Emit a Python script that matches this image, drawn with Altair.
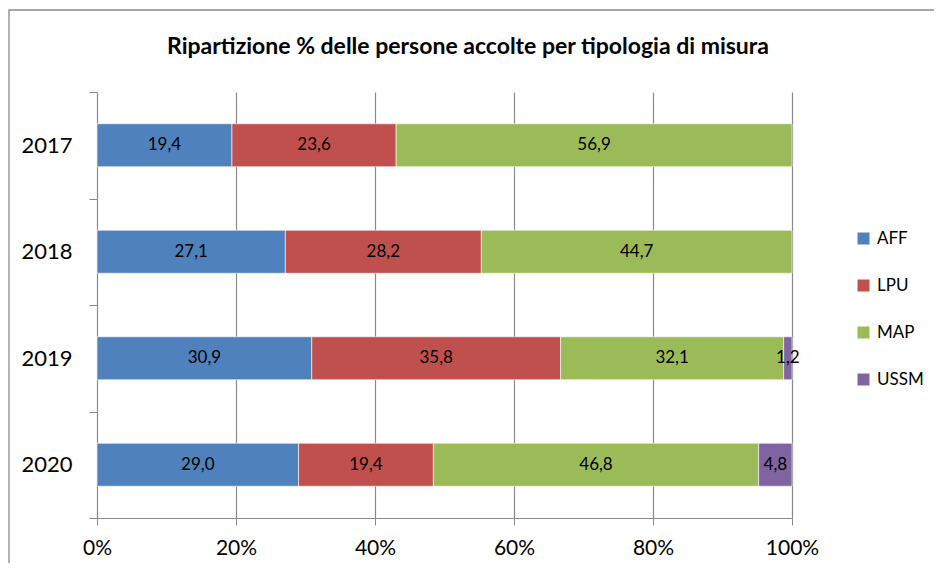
import altair as alt
import pandas as pd

years = ["2017", "2018", "2019", "2020"]
series = ["AFF", "LPU", "MAP", "USSM"]
aff = [19.4, 27.1, 30.9, 29.0]
lpu = [23.6, 28.2, 35.8, 19.4]
map_ = [56.9, 44.7, 32.1, 46.8]
ussm = [0.0, 0.0, 1.2, 4.8]
colors = ["#4F81BD", "#C0504D", "#9BBB59", "#8064A2"]
title_text = "Ripartizione % delle persone accolte per tipologia di misura"

rows = []
for i, y in enumerate(years):
    for j, (s, vals) in enumerate(zip(series, [aff, lpu, map_, ussm])):
        if vals[i] > 0:
            rows.append({"year": y, "serie": s, "v": vals[i], "ord": j})
df = pd.DataFrame(rows)

FONT = "Lato"
GRID = "#8a8a8a"

base = alt.Chart(df).transform_stack(
    stack="v", groupby=["year"], as_=["x0", "x1"], offset="normalize",
    sort=[alt.SortField("ord", order="ascending")]
).transform_calculate(
    mid="(datum.x0 + datum.x1) / 2",
    lab="replace(format(datum.v, '.1f'), '.', ',')"
)

yenc = alt.Y("year:N", sort=years, title=None,
             scale=alt.Scale(paddingInner=0, paddingOuter=0),
             axis=alt.Axis(tickBand="extent", tickSize=8, tickColor=GRID,
                           domainColor=GRID, labelFontSize=22, labelFont=FONT,
                           labelColor="black", labelPadding=17, grid=False))

bars = base.mark_bar(size=43, stroke="white", strokeWidth=0.6).encode(
    x=alt.X("x0:Q", title=None,
            scale=alt.Scale(domain=[0, 1], nice=False),
            axis=alt.Axis(format="%", values=[0, 0.2, 0.4, 0.6, 0.8, 1.0],
                          tickSize=7, tickColor=GRID, domainColor=GRID,
                          grid=True, gridColor=GRID, gridWidth=1.2,
                          labelFontSize=21, labelFont=FONT, labelColor="black",
                          labelPadding=12, labelFlush=False)),
    x2="x1:Q",
    y=yenc,
    color=alt.Color("serie:N", sort=series,
                    scale=alt.Scale(domain=series, range=colors),
                    legend=alt.Legend(title=None, orient="none", legendX=758, legendY=138,
                                      symbolType="square", symbolSize=144,
                                      symbolStrokeWidth=0, labelFontSize=17,
                                      labelFont=FONT, labelColor="black",
                                      labelOffset=5, rowPadding=29, padding=0)),
)

labels = base.mark_text(fontSize=17, font=FONT, color="black",
                        align="center", baseline="middle").encode(
    x="mid:Q", y=alt.Y("year:N", sort=years), text="lab:N")

border = alt.Chart(alt.Data(values=[{"a": 1}])).mark_rect(
    filled=False, stroke="#8a8a8a", strokeWidth=1.3).encode(
    x=alt.value(-88), x2=alt.value(900), y=alt.value(-82), y2=alt.value(700))

title = alt.Chart(alt.Data(values=[{"t": title_text}])).mark_text(
    font=FONT, fontSize=23, fontWeight="bold", color="black",
    align="center", baseline="middle").encode(
    x=alt.value(371), y=alt.value(-45), text="t:N")

chart = alt.layer(border, bars, labels, title).properties(
    width=695, height=426,
    autosize=alt.AutoSizeParams(type="none"),
    padding={"left": 89, "top": 84, "right": 142, "bottom": 45},
).configure_view(stroke=None)

chart.save("out.html", embed_options={"renderer": "svg", "actions": False})
